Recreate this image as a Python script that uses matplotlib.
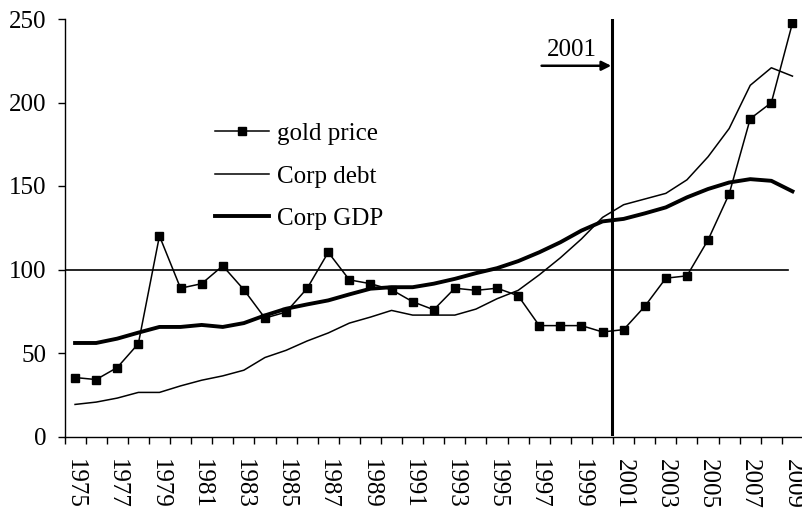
import matplotlib
matplotlib.use("Agg")
import matplotlib.pyplot as plt

plt.rcParams['font.family'] = ['Liberation Serif', 'DejaVu Serif']

years = list(range(1975, 2010))

gold_price = [35.3, 34.1, 41.3, 55.6, 120.1, 88.8, 91.5, 102.2, 87.9, 70.9,
              74.5, 88.7, 110.3, 93.8, 91.5, 87.9, 80.7, 75.9, 88.8, 87.5,
              88.8, 84.3, 66.4, 66.4, 66.4, 62.6, 64.0, 77.9, 94.8, 96.2,
              117.7, 145.2, 190.3, 199.9, 247.6]

corp_debt = [19.2, 20.6, 23.0, 26.4, 26.4, 30.3, 33.7, 36.3, 39.7, 47.3,
             51.6, 57.2, 62.0, 67.9, 71.5, 75.5, 72.7, 72.7, 72.7, 76.3,
             82.5, 87.5, 96.8, 107.0, 118.3, 131.2, 138.8, 142.2, 145.6, 153.7,
             167.5, 184.4, 210.3, 220.8, 215.8]

corp_gdp = [56.0, 56.0, 58.6, 62.2, 65.6, 65.6, 66.8, 65.6, 67.9, 72.5,
            76.5, 79.1, 81.5, 85.1, 88.5, 89.4, 89.4, 91.5, 94.4, 97.8,
            100.8, 105.0, 110.3, 116.3, 123.3, 128.8, 130.3, 133.6, 137.2, 143.2,
            148.2, 152.1, 154.1, 153.1, 146.8]

y_ticks = [0, 50, 100, 150, 200, 250]
marked_year = 2001

fs = 18
fig = plt.figure(figsize=(8.02, 5.14), dpi=100)
ax = fig.add_axes([64.5 / 802, 77.5 / 514, 738.5 / 802, 417.5 / 514])

x = list(range(len(years)))
ax.plot(x, gold_price, color='black', lw=1.1, marker='s', markersize=5.5,
        label='gold price')
ax.plot(x, corp_debt, color='black', lw=1.1, label='Corp debt')
ax.plot(x, corp_gdp, color='black', lw=2.8, label='Corp GDP')

# reference lines
ax.plot([-0.5, 33.8], [100, 100], color='black', lw=1.2)
xm = years.index(marked_year) - 0.54
ax.plot([xm, xm], [1.5, 250.5], color='black', lw=2.2)
ax.annotate('', xy=(xm - 0.05, 222), xytext=(xm - 3.35, 222),
            arrowprops=dict(arrowstyle='-|>', color='black', lw=1.8,
                            mutation_scale=14, shrinkA=0, shrinkB=0))
ax.text(xm - 1.9, 225, str(marked_year), fontsize=fs, ha='center', va='bottom')

ax.set_xlim(-0.5, 34.5)
ax.set_ylim(0, 250)

ax.set_yticks(y_ticks)
ax.tick_params(axis='y', labelsize=fs, length=5, width=1, direction='out', pad=8)

ax.set_xticks(x[::2])
ax.set_xticklabels([str(y) for y in years[::2]], rotation=270, fontsize=fs)
ax.set_xticks([i - 0.5 for i in range(len(years) + 1)], minor=True)
ax.tick_params(axis='x', which='major', length=0, pad=16)
ax.tick_params(axis='x', which='minor', length=5, width=1, direction='out')

for s in ['top', 'right']:
    ax.spines[s].set_visible(False)
for s in ['left', 'bottom']:
    ax.spines[s].set_linewidth(1)

ax.legend(loc='upper left', bbox_to_anchor=(0.204, 0.752), frameon=False,
          fontsize=fs, handlelength=2.15, handletextpad=0.33, labelspacing=0.8,
          borderpad=0, borderaxespad=0)

fig.savefig('out.png', dpi=100)
